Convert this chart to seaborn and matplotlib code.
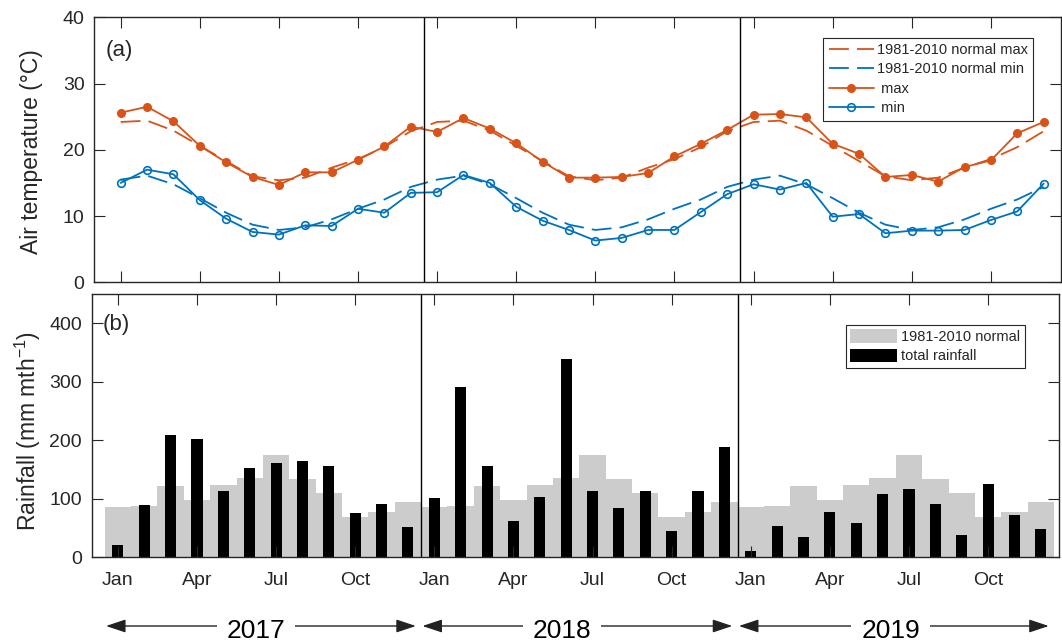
import numpy as np
import pandas as pd
import matplotlib
matplotlib.use("Agg")
import matplotlib.pyplot as plt
import matplotlib.transforms as mtransforms
import seaborn as sns

# ---- data -------------------------------------------------------------
years = ["2017", "2018", "2019"]
month_ticks = ["Jan", "Apr", "Jul", "Oct"]

# 1981-2010 monthly normals (Jan..Dec)
normal_tmax = [24.2, 24.4, 22.9, 20.6, 18.3, 16.0, 15.4, 15.8, 17.3, 18.6, 20.4, 22.8]
normal_tmin = [15.5, 16.1, 14.8, 12.7, 10.5, 8.7, 7.9, 8.3, 9.5, 11.1, 12.5, 14.4]
normal_rain = [85.6, 87.3, 121.6, 97.6, 123.3, 135.3, 174.7, 133.6, 109.6, 68.5, 77.1, 94.2]

# observed monthly means / totals, Jan 2017 .. Dec 2019
tmax = [25.6, 26.5, 24.3, 20.6, 18.1, 15.9, 14.7, 16.6, 16.6, 18.5, 20.5, 23.5,
        22.7, 24.8, 23.2, 21.0, 18.2, 15.8, 15.8, 15.9, 16.5, 19.0, 20.9, 23.0,
        25.3, 25.4, 24.9, 20.9, 19.4, 15.9, 16.2, 15.2, 17.4, 18.4, 22.5, 24.2]
tmin = [15.0, 17.0, 16.3, 12.4, 9.6, 7.6, 7.2, 8.6, 8.5, 11.1, 10.5, 13.5,
        13.6, 16.2, 15.0, 11.4, 9.3, 7.9, 6.3, 6.7, 7.9, 7.9, 10.6, 13.3,
        14.8, 14.0, 15.0, 9.9, 10.3, 7.4, 7.8, 7.8, 7.9, 9.4, 10.7, 14.9]
rain = [20.0, 89.0, 208.9, 201.5, 113.0, 151.8, 160.4, 164.4, 155.3, 75.3, 90.2, 51.4,
        100.5, 291.1, 156.4, 62.2, 103.3, 338.5, 113.6, 84.5, 112.4, 44.5, 113.0, 188.4,
        10.3, 52.5, 34.8, 77.6, 57.6, 107.3, 116.4, 90.8, 37.1, 125.6, 71.3, 48.5]

n_years = len(years)
df = pd.DataFrame({
    "month": np.arange(12 * n_years),
    "tmax": tmax,
    "tmin": tmin,
    "normal_tmax": np.tile(normal_tmax, n_years),
    "normal_tmin": np.tile(normal_tmin, n_years),
    "rain": rain,
    "normal_rain": np.tile(normal_rain, n_years),
})

# ---- style ------------------------------------------------------------
sns.set_style("ticks")
plt.rcParams["font.family"] = ["Liberation Sans", "DejaVu Sans"]
plt.rcParams["mathtext.default"] = "regular"

ORANGE = "#D95319"
BLUE = "#0072BD"
INK = "#262626"

W, H = 1062, 643
fig = plt.figure(figsize=(W / 100, H / 100), dpi=100)
ax1 = fig.add_axes([94.3 / W, 1 - 282.3 / H, 967 / W, 265 / H])
ax2 = fig.add_axes([91.5 / W, 1 - 557 / H, 967 / W, 262.7 / H])

# ---- (a) air temperature ---------------------------------------------
dash = (0, (11, 4.5))
sns.lineplot(data=df, x="month", y="normal_tmax", ax=ax1, color=ORANGE, lw=1.3,
             linestyle=dash, errorbar=None, label="1981-2010 normal max")
sns.lineplot(data=df, x="month", y="normal_tmin", ax=ax1, color=BLUE, lw=1.3,
             linestyle=dash, errorbar=None, label="1981-2010 normal min")
sns.lineplot(data=df, x="month", y="tmax", ax=ax1, color=ORANGE, lw=1.3,
             marker="o", markersize=5.5, markerfacecolor=ORANGE,
             markeredgecolor=ORANGE, markeredgewidth=1.0, errorbar=None, label=" max")
sns.lineplot(data=df, x="month", y="tmin", ax=ax1, color=BLUE, lw=1.3,
             marker="o", markersize=5.5, markerfacecolor="none",
             markeredgecolor=BLUE, markeredgewidth=1.2, errorbar=None, label=" min")

# ---- (b) rainfall ------------------------------------------------------
sns.barplot(data=df, x="month", y="normal_rain", ax=ax2, native_scale=True, orient="x",
            width=1.0, color="#CCCCCC", saturation=1, errorbar=None, linewidth=0)
sns.barplot(data=df, x="month", y="rain", ax=ax2, native_scale=True, orient="x",
            width=0.42, color="black", saturation=1, errorbar=None, linewidth=0)

# ---- axes cosmetics ----------------------------------------------------
quarters = df["month"].values[::3]
for ax in (ax1, ax2):
    ax.set_xlim(-1, 35.67)
    ax.set_xticks(quarters)
    ax.tick_params(direction="in", length=7.7, width=0.8, top=True, right=True,
                   colors=INK, labelsize=14, pad=7)
    for sp in ax.spines.values():
        sp.set_visible(True)
        sp.set_color(INK)
        sp.set_linewidth(1.0)
    ax.set_axisbelow(False)
    ax.set_xlabel("")
    for yr in range(1, n_years):
        ax.axvline(12 * yr - 0.5, color="black", lw=1.0, zorder=2.2)

ax1.set_ylim(0, 40)
ax1.set_yticks([0, 10, 20, 30, 40])
ax1.set_xticklabels([])
ax1.set_ylabel("Air temperature (°C)", fontsize=16.5, color=INK)
ax1.yaxis.set_label_coords((43 - 94.3) / 967, 0.495)

ax2.set_ylim(0, 450)
ax2.set_yticks([0, 100, 200, 300, 400])
ax2.set_xticklabels(month_ticks * n_years)
ax2.tick_params(axis="x", pad=11)
ax2.set_ylabel("Rainfall (mm mth$^{-1}$)", fontsize=16.5, color=INK)
ax2.yaxis.set_label_coords((43 - 91.5) / 967, 0.48)

ax1.text(0.012, 0.874, "(a)", transform=ax1.transAxes, fontsize=16, color=INK,
         ha="left", va="center")
ax2.text(0.011, 0.885, "(b)", transform=ax2.transAxes, fontsize=16, color=INK,
         ha="left", va="center")

leg1 = ax1.legend(loc="upper right", bbox_to_anchor=(0.971, 0.923), borderaxespad=0,
                  fontsize=10.5, handlelength=3.1, handletextpad=0.2, labelspacing=0.36,
                  borderpad=0.38, fancybox=False, framealpha=1, edgecolor=INK)
leg1.get_frame().set_linewidth(0.8)

bars = ax2.containers
leg2 = ax2.legend([bars[0], bars[1]], ["1981-2010 normal", "total rainfall"],
                  loc="upper right", bbox_to_anchor=(0.965, 0.883), borderaxespad=0,
                  fontsize=10.5, handlelength=3.2, handleheight=1.05, handletextpad=0.3,
                  labelspacing=0.3, borderpad=0.3, fancybox=False, framealpha=1,
                  edgecolor=INK)
leg2.get_frame().set_linewidth(0.8)

# ---- year arrows beneath the time axis --------------------------------
trans = mtransforms.blended_transform_factory(ax2.transData, fig.transFigure)
arrow_y = 1 - 626 / H
text_y = 1 - 637.7 / H
label_offsets = [5.25, 4.85, 5.3]
for i, yr in enumerate(years):
    start, end = 12 * i - 0.45, 12 * i + 11.3
    ax2.annotate("", xy=(end, arrow_y), xytext=(start, arrow_y),
                 xycoords=trans, textcoords=trans, annotation_clip=False,
                 arrowprops=dict(arrowstyle="<|-|>,head_length=1.2,head_width=0.4",
                                 color="#222222", lw=1.0, shrinkA=0, shrinkB=0))
    ax2.text(12 * i + label_offsets[i], text_y, yr, transform=trans, fontsize=19,
             color="black", ha="center", va="baseline", zorder=6, clip_on=False,
             bbox=dict(facecolor="white", edgecolor="none", pad=7))

fig.savefig("out.png", dpi=100)
